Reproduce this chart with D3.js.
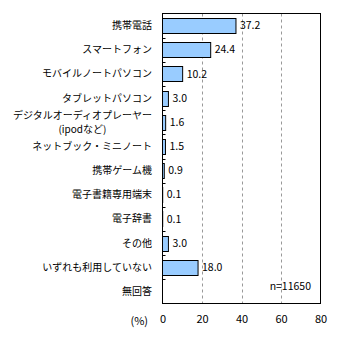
<!DOCTYPE html>
<html><head><meta charset="utf-8">
<script src="https://cdn.jsdelivr.net/npm/d3@7"></script>
<style>
body{margin:0;background:#fff;}
text{font-family:"Noto Sans CJK JP","Noto Sans",sans-serif;fill:#000;}
</style></head>
<body><svg id="c" width="354" height="345"></svg>
<script>
const categories = ["携帯電話","スマートフォン","モバイルノートパソコン","タブレットパソコン","デジタルオーディオプレーヤー\n(ipodなど)","ネットブック・ミニノート","携帯ゲーム機","電子書籍専用端末","電子辞書","その他","いずれも利用していない","無回答"];
const values = [37.2,24.4,10.2,3.0,1.6,1.5,0.9,0.1,0.1,3.0,18.0,null];
const xTicks = [0,20,40,60,80];
const unitLabel = "(%)";
const note = "n=11650";

const svg = d3.select("#c");
const L=162.5, R=320.5, T=13.5, B=303.5;
const x = d3.scaleLinear().domain([0,80]).range([L,R]);
const y = d3.scaleBand().domain(d3.range(categories.length)).range([T,B]).paddingInner(0.38).paddingOuter(0.19);
const yb = d3.scaleBand().domain(d3.range(categories.length)).range([T,B]);

// grid
svg.append("g").selectAll("line").data(xTicks.filter(d=>d>0&&d<80)).join("line")
  .attr("x1",d=>Math.round(x(d))+0.5).attr("x2",d=>Math.round(x(d))+0.5)
  .attr("y1",T).attr("y2",B).attr("stroke","#999").attr("stroke-dasharray","3,3");

// bars
svg.append("g").selectAll("rect").data(values.map((v,i)=>({v,i})).filter(d=>d.v!=null)).join("rect")
  .attr("x",L).attr("y",d=>Math.round(y(d.i))+0.5)
  .attr("width",d=>x(d.v)-L).attr("height",Math.round(y.bandwidth()))
  .attr("fill","#99ccff").attr("stroke","#000").attr("stroke-width",1);

// value labels
svg.append("g").selectAll("text").data(values.map((v,i)=>({v,i})).filter(d=>d.v!=null)).join("text")
  .attr("x",d=>x(d.v)+4).attr("y",d=>y(d.i)+y.bandwidth()/2).attr("dy","0.35em")
  .attr("font-size","10.5px").text(d=>d.v.toFixed(1));

// frame
svg.append("rect").attr("x",L).attr("y",T).attr("width",R-L).attr("height",B-T)
  .attr("fill","none").attr("stroke","#000");

// left ticks (inside)
svg.append("g").selectAll("line").data(d3.range(1,categories.length)).join("line")
  .attr("x1",L).attr("x2",L+3).attr("y1",d=>Math.round(yb(d))+0.5).attr("y2",d=>Math.round(yb(d))+0.5)
  .attr("stroke","#000");

// category labels
const gl = svg.append("g");
categories.forEach((c,i)=>{
  const lines = c.split("\n");
  const cy = yb(i)+yb.bandwidth()/2;
  const g = gl.append("g");
  const texts = lines.map((ln,k)=>g.append("text").attr("font-size","10px")
    .attr("y",cy+(k-(lines.length-1)/2)*14).attr("dy","0.35em").text(ln));
  const widths = texts.map(t=>t.node().getComputedTextLength());
  const maxW = d3.max(widths);
  const right = 152;
  texts.forEach((t,k)=>t.attr("text-anchor","middle").attr("x",right-maxW/2));
});

// x axis labels
const xa = d3.axisBottom(x).tickValues(xTicks).tickSize(0).tickPadding(0).tickFormat(d3.format("d"));
const ga = svg.append("g").attr("transform",`translate(0,${B+12})`).call(xa);
ga.select(".domain").remove();
ga.selectAll("text").attr("font-size","11px").attr("font-family",'"Noto Sans CJK JP","Noto Sans",sans-serif').attr("fill","#000");
svg.append("text").attr("x",148).attr("y",B+17.5).attr("dy","0.35em").attr("text-anchor","end").attr("font-size","11px").text(unitLabel);

// note
svg.append("text").attr("x",311).attr("y",286.5).attr("dy","0.35em").attr("text-anchor","end").attr("font-size","10.5px").text(note);
</script></body></html>
